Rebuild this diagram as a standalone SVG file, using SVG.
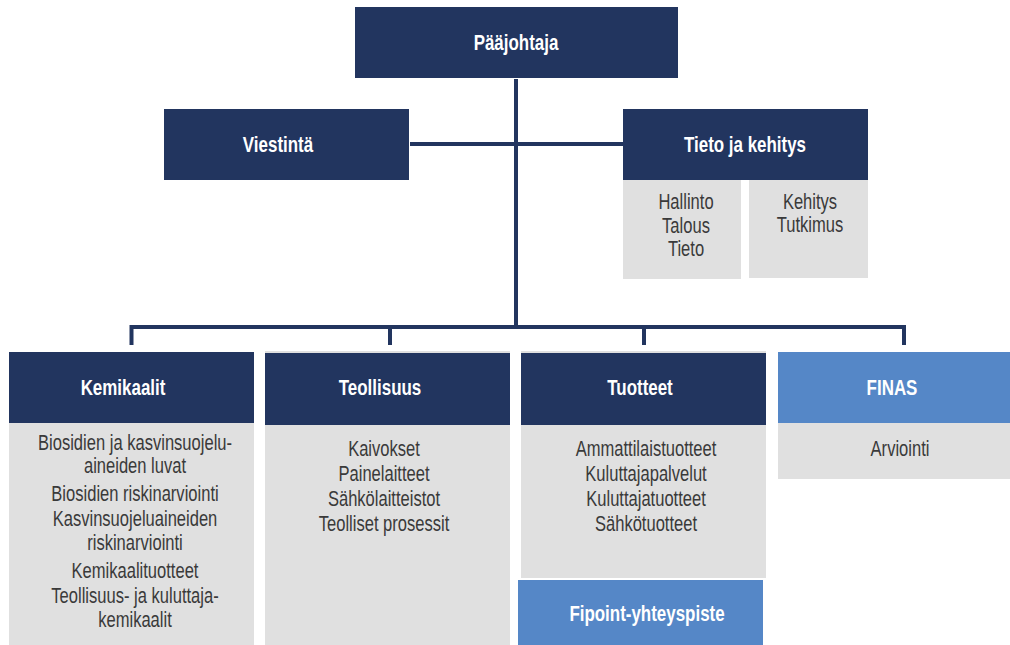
<svg xmlns="http://www.w3.org/2000/svg" width="1010" height="645" viewBox="0 0 1010 645">
<style>
.navy{fill:#22355F}
.blue{fill:#5587C7}
.gray{fill:#E0E0E0}
.h{font-family:"Liberation Sans",Arial,sans-serif;font-weight:bold;font-size:22px;fill:#fff;text-anchor:middle}
.b{font-family:"Liberation Sans",Arial,sans-serif;font-size:21.5px;fill:#3a3a3a;text-anchor:middle}
.ln{stroke:#22355F;stroke-width:4;fill:none}
</style>
<rect width="1010" height="645" fill="#fff"/>
<g id="connectors">
<line class="ln" x1="516" y1="79" x2="516" y2="327"/>
<line class="ln" x1="410" y1="144" x2="623" y2="144" stroke-width="3.5"/>
<polyline class="ln" points="131.5,345 131.5,327 904,327 904,345"/>
<line class="ln" x1="390" y1="327" x2="390" y2="345"/>
<line class="ln" x1="644" y1="327" x2="644" y2="345"/>
</g>
<g id="paajohtaja">
<rect class="navy" x="355" y="7" width="323" height="71"/>
<text class="h" transform="translate(516 50) scale(0.77 1)">Pääjohtaja</text>
</g>
<g id="viestinta">
<rect class="navy" x="164" y="109" width="245" height="71"/>
<text class="h" transform="translate(278 152) scale(0.77 1)">Viestintä</text>
</g>
<g id="tieto">
<rect class="navy" x="623" y="109" width="245" height="71"/>
<text class="h" transform="translate(745 152) scale(0.77 1)">Tieto ja kehitys</text>
<rect class="gray" x="623" y="180" width="118" height="99"/>
<rect class="gray" x="749" y="180" width="119" height="98"/>
<g class="b" transform="translate(686 0) scale(0.77 1)">
<text x="0" y="209">Hallinto</text>
<text x="0" y="233">Talous</text>
<text x="0" y="256">Tieto</text>
</g>
<g class="b" transform="translate(810 0) scale(0.77 1)">
<text x="0" y="209">Kehitys</text>
<text x="0" y="232">Tutkimus</text>
</g>
</g>
<g id="kemikaalit">
<rect class="navy" x="9" y="352" width="245" height="71"/>
<rect class="gray" x="9" y="423" width="245" height="222"/>
<text class="h" transform="translate(123 395) scale(0.77 1)">Kemikaalit</text>
<g class="b" transform="translate(135 0) scale(0.77 1)">
<text x="0" y="450">Biosidien ja kasvinsuojelu-</text>
<text x="0" y="473">aineiden luvat</text>
<text x="0" y="501">Biosidien riskinarviointi</text>
<text x="0" y="526">Kasvinsuojeluaineiden</text>
<text x="0" y="550">riskinarviointi</text>
<text x="0" y="578">Kemikaalituotteet</text>
<text x="0" y="603">Teollisuus- ja kuluttaja-</text>
<text x="0" y="627">kemikaalit</text>
</g>
</g>
<g id="teollisuus">
<rect class="gray" x="265" y="351" width="245" height="3"/>
<rect class="navy" x="265" y="353" width="245" height="72"/>
<rect class="gray" x="265" y="425" width="245" height="220"/>
<text class="h" transform="translate(380 395) scale(0.77 1)">Teollisuus</text>
<g class="b" transform="translate(384 0) scale(0.77 1)">
<text x="0" y="456">Kaivokset</text>
<text x="0" y="481">Painelaitteet</text>
<text x="0" y="506">Sähkölaitteistot</text>
<text x="0" y="531">Teolliset prosessit</text>
</g>
</g>
<g id="tuotteet">
<rect class="gray" x="521" y="351" width="245" height="3"/>
<rect class="navy" x="521" y="353" width="245" height="72"/>
<rect class="gray" x="521" y="425" width="245" height="153"/>
<text class="h" transform="translate(640 395) scale(0.77 1)">Tuotteet</text>
<g class="b" transform="translate(646 0) scale(0.77 1)">
<text x="0" y="456">Ammattilaistuotteet</text>
<text x="0" y="481">Kuluttajapalvelut</text>
<text x="0" y="506">Kuluttajatuotteet</text>
<text x="0" y="531">Sähkötuotteet</text>
</g>
</g>
<g id="fipoint">
<rect class="blue" x="518" y="580" width="245" height="65"/>
<text class="h" transform="translate(647 621) scale(0.77 1)">Fipoint-yhteyspiste</text>
</g>
<g id="finas">
<rect class="blue" x="778" y="352" width="232" height="71"/>
<rect class="gray" x="778" y="423" width="232" height="56"/>
<text class="h" transform="translate(892 395) scale(0.77 1)">FINAS</text>
<text class="b" transform="translate(900 456) scale(0.77 1)">Arviointi</text>
</g>
</svg>
